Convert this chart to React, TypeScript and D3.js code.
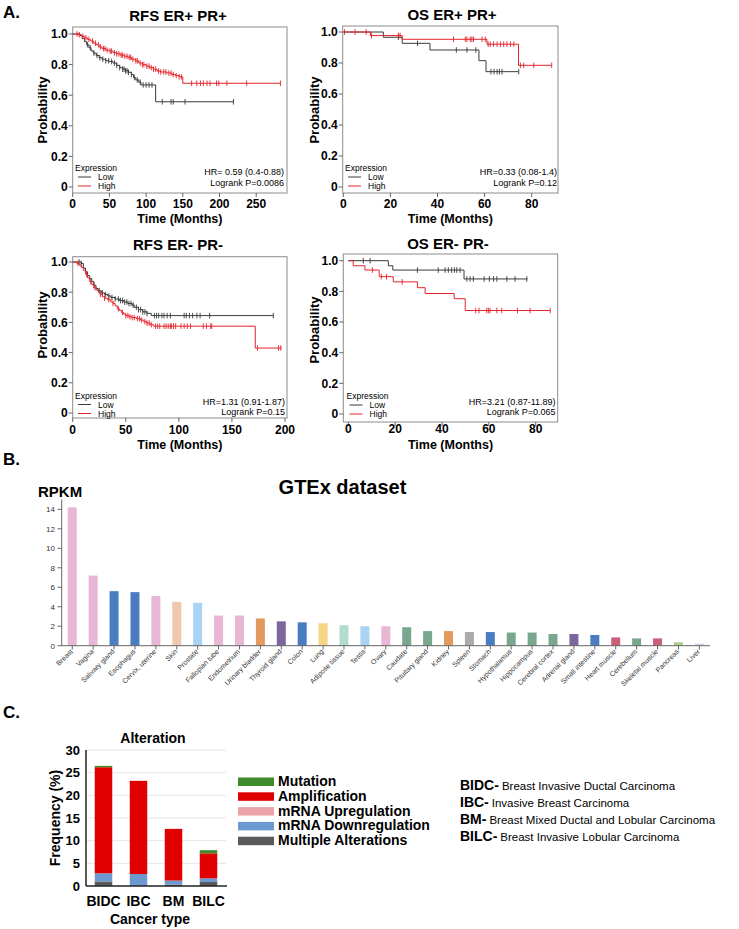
import React from "react";
import * as d3 from "d3";

type Pt = [number, number];

// ---------- Panel A: Kaplan-Meier data (time in months, survival probability) ----------
const rfsPosLow: Pt[] = [
  [0, 1], [10, 0.99], [13, 0.97], [16, 0.95], [19, 0.93], [22, 0.91], [25, 0.89], [28, 0.875],
  [32, 0.86], [36, 0.845], [40, 0.835], [45, 0.825], [50, 0.82], [55, 0.81], [60, 0.795],
  [64, 0.78], [68, 0.77], [72, 0.76], [76, 0.75], [80, 0.735], [83, 0.715], [86, 0.7],
  [90, 0.685], [93, 0.667], [113, 0.557], [219, 0.557],
];
const rfsPosLowCensor = [20, 24, 29, 33, 37, 41, 45, 49, 53, 57, 60, 64, 68, 70, 72, 74, 76, 80, 84, 88, 92, 96, 100, 104, 108, 122, 134, 137, 153, 219];
const rfsPosHigh: Pt[] = [
  [0, 1], [8, 0.995], [12, 0.985], [16, 0.975], [20, 0.965], [24, 0.955], [28, 0.94], [32, 0.93],
  [36, 0.915], [40, 0.905], [45, 0.895], [50, 0.888], [55, 0.878], [60, 0.87], [65, 0.862],
  [70, 0.855], [75, 0.848], [80, 0.835], [85, 0.825], [90, 0.81], [95, 0.8], [100, 0.79],
  [105, 0.78], [110, 0.77], [115, 0.758], [120, 0.752], [128, 0.745], [135, 0.735],
  [140, 0.728], [145, 0.72], [150, 0.678], [283, 0.678],
];
const rfsPosHighCensor = [6, 9, 14, 18, 22, 27, 31, 35, 38, 42, 44, 47, 51, 53, 57, 60, 63, 66, 68, 71, 74, 77, 79, 82, 86, 88, 92, 95, 97, 101, 104, 107, 110, 113, 117, 120, 124, 127, 131, 134, 137, 141, 145, 148, 162, 169, 174, 178, 183, 187, 196, 199, 210, 237, 283];

const osPosLow: Pt[] = [[0, 1], [17, 0.966], [25, 0.927], [36.8, 0.884], [57.6, 0.815], [60.6, 0.744], [74.5, 0.744]];
const osPosLowCensor = [23.4, 31.5, 48, 52.5, 56.3, 62.7, 64, 65.3, 66.3, 67.4, 74.5];
const osPosHigh: Pt[] = [[0, 1], [11.5, 0.977], [25, 0.953], [61, 0.921], [74.4, 0.785], [88.5, 0.785]];
const osPosHighCensor = [0.5, 5, 9.7, 12, 23.4, 24.1, 46.8, 51.8, 52.5, 53.9, 54.6, 55.3, 58.9, 60.3, 61.5, 62.4, 63.8, 65.3, 66.7, 68.1, 69.5, 71, 72.4, 75.2, 76.6, 80.9, 88.5];

const rfsNegLow: Pt[] = [
  [0, 1], [8, 0.99], [10, 0.96], [12, 0.935], [14, 0.91], [16, 0.89], [18, 0.87], [20, 0.845],
  [22, 0.825], [24, 0.81], [27, 0.795], [30, 0.785], [33, 0.775], [36, 0.765], [40, 0.755],
  [44, 0.745], [48, 0.735], [52, 0.725], [56, 0.715], [58, 0.7], [62, 0.685], [66, 0.67],
  [70, 0.66], [74, 0.645], [189, 0.645],
];
const rfsNegLowCensor = [6, 8, 20, 25, 28, 31, 34, 37, 40, 43, 45, 47, 49, 51, 53, 55, 57, 60, 62, 64, 66, 68, 70, 77, 79, 81, 84, 86, 89, 92, 105, 107, 110, 113, 117, 120, 129, 189];
const rfsNegHigh: Pt[] = [
  [0, 1], [4, 0.99], [6, 0.98], [8, 0.965], [10, 0.945], [12, 0.92], [14, 0.895], [16, 0.87],
  [18, 0.85], [20, 0.83], [22, 0.815], [24, 0.8], [26, 0.785], [28, 0.77], [30, 0.76],
  [33, 0.75], [36, 0.735], [38, 0.725], [40, 0.71], [42, 0.69], [44, 0.68], [46, 0.665],
  [48, 0.655], [50, 0.645], [53, 0.637], [56, 0.632], [60, 0.625], [64, 0.615], [67, 0.605],
  [70, 0.595], [73, 0.585], [76, 0.575], [172, 0.43], [197, 0.43],
];
const rfsNegHighCensor = [5, 13, 17, 21, 26, 30, 34, 38, 43, 47, 50, 52, 54, 56, 58, 61, 63, 65, 68, 70, 72, 74, 78, 80, 82, 86, 88, 90, 92, 93, 95, 97, 102, 105, 108, 111, 123, 126, 130, 131, 174, 194, 196];

const osNegLow: Pt[] = [[0, 1], [17.1, 0.967], [19, 0.939], [49.4, 0.881], [76.5, 0.881]];
const osNegLowCensor = [6.4, 9.3, 29.5, 38.4, 41.3, 42.7, 44.1, 45.3, 46.3, 47.7, 50.6, 52, 53.4, 58, 60.2, 62, 63.4, 67.7, 71.2, 76.2];
const osNegHigh: Pt[] = [[0, 1], [2.1, 0.967], [7.1, 0.939], [13.2, 0.896], [19.2, 0.862], [29.5, 0.824], [32.8, 0.786], [45.2, 0.752], [49.9, 0.675], [86.2, 0.675]];
const osNegHighCensor = [10.3, 14.1, 16.3, 23, 54.4, 55.8, 59.1, 59.8, 60.5, 63.4, 65.5, 72.2, 77.6, 86.2];

const probTicks = [0, 0.2, 0.4, 0.6, 0.8, 1.0];

// ---------- Panel B: GTEx ----------
const gtexTissues = [
  "Breast", "Vagina", "Salivary gland", "Esophagus", "Cervix, uterine", "Skin", "Prostate",
  "Fallopian tube", "Endometrium", "Urinary bladder", "Thyroid gland", "Colon", "Lung",
  "Adipose tissue", "Testis", "Ovary", "Caudate", "Pituitary gland", "Kidney", "Spleen",
  "Stomach", "Hypothalamus", "Hippocampus", "Cerebral cortex", "Adrenal gland",
  "Small intestine", "Heart muscle", "Cerebellum", "Skeletal muscle", "Pancreas", "Liver",
];
const gtexRpkm = [
  14.2, 7.2, 5.6, 5.5, 5.1, 4.5, 4.4, 3.1, 3.1, 2.8, 2.5, 2.4, 2.3, 2.1, 2.0, 2.0,
  1.9, 1.5, 1.5, 1.4, 1.4, 1.35, 1.35, 1.2, 1.2, 1.1, 0.85, 0.75, 0.75, 0.35, 0.2,
];
const gtexTicks = [0, 2, 4, 6, 8, 10, 12, 14];

// ---------- Panel C: Alterations ----------
const cancerTypes = ["BIDC", "IBC", "BM", "BILC"];
const altMultiple = [1.0, 0, 0.3, 0.9];
const altDownreg = [1.8, 2.65, 0.9, 0.8];
const altUpreg = [0, 0, 0, 0];
const altAmplification = [23.4, 20.55, 11.4, 5.5];
const altMutation = [0.3, 0, 0, 0.7];
const freqTicks = [0, 5, 10, 15, 20, 25, 30];
const altLegendLabels = ["Mutation", "Amplification", "mRNA Upregulation", "mRNA Downregulation", "Multiple Alterations"];
const abbrevCodes = ["BIDC-", "IBC-", "BM-", "BILC-"];
const abbrevNames = [
  "Breast Invasive Ductal Carcinoma",
  "Invasive Breast Carcinoma",
  "Breast Mixed Ductal and Lobular Carcinoma",
  "Breast Invasive Lobular Carcinoma",
];

// ---------- styles ----------
const FONT = "'Liberation Sans', Arial, Helvetica, sans-serif";
const RED = "#e3242b";
const BLACK = "#3a3a3a";
const gtexColors = [
  "#e8b7d5", "#e8b7d5", "#4a7cc2", "#4a7cc2", "#e8b7d5", "#f0c8ae", "#a9d3f5", "#e8b7d5",
  "#e8b7d5", "#e39a5e", "#7b669f", "#4a7cc2", "#f5d584", "#b4dccc", "#a9d3f5", "#e8b7d5",
  "#79a78e", "#79a78e", "#e39a5e", "#a9abac", "#4a7cc2", "#79a78e", "#79a78e", "#79a78e",
  "#7b669f", "#4a7cc2", "#c9607a", "#79a78e", "#c9607a", "#a9cc8a", "#d0cce8",
];
const altColors = ["#3f8a2a", "#e00000", "#eba3aa", "#6c9ad0", "#5a5a5a"];

function survAt(steps: Pt[], t: number) {
  let s = steps[0][1];
  for (const p of steps) if (p[0] <= t) s = p[1];
  return s;
}

type KMCfg = {
  title: string; titleX: number; titleY: number;
  box: [number, number, number, number];
  xd: [number, number]; xr: [number, number]; yr: [number, number];
  xTicks: number[]; xTickY: number; xLabelY: number; yLabelX: number; yLabelY: number;
  low: Pt[]; lowC: number[]; high: Pt[]; highC: number[];
  legX: number; legY: number; hrX: number; hrY: number; hr: string; p: string;
};

function KM({ c }: { c: KMCfg }) {
  const x = d3.scaleLinear().domain(c.xd).range(c.xr);
  const y = d3.scaleLinear().domain([0, 1]).range(c.yr);
  const line = d3.line<Pt>().x((d) => x(d[0])).y((d) => y(d[1])).curve(d3.curveStepAfter);
  const [bx0, bx1, by0, by1] = c.box;
  const series = [
    { steps: c.low, cens: c.lowC, color: BLACK },
    { steps: c.high, cens: c.highC, color: RED },
  ];
  return (
    <g fontFamily={FONT}>
      <text x={c.titleX} y={c.titleY} textAnchor="middle" fontWeight="bold" fontSize={15}>{c.title}</text>
      <rect x={bx0} y={by0} width={bx1 - bx0} height={by1 - by0} fill="none" stroke="#8c8c8c" strokeWidth={1} />
      {probTicks.map((t) => (
        <g key={"y" + t}>
          <line x1={bx0 - 4} x2={bx0} y1={y(t)} y2={y(t)} stroke="#666" />
          <text x={bx0 - 5} y={y(t)} dy="0.36em" textAnchor="end" fontWeight="bold" fontSize={12}>
            {t === 0 ? "0" : t.toFixed(1)}
          </text>
        </g>
      ))}
      {c.xTicks.map((t) => (
        <g key={"x" + t}>
          <line x1={x(t)} x2={x(t)} y1={by1} y2={by1 + 4} stroke="#666" />
          <text x={x(t)} y={c.xTickY} textAnchor="middle" fontWeight="bold" fontSize={12}>{t}</text>
        </g>
      ))}
      <text x={(bx0 + bx1) / 2} y={c.xLabelY} textAnchor="middle" fontWeight="bold" fontSize={12.5}>Time (Months)</text>
      <text transform={`translate(${c.yLabelX},${c.yLabelY}) rotate(-90)`} textAnchor="middle" fontWeight="bold" fontSize={13}>Probability</text>
      {series.map((s, i) => (
        <g key={i}>
          <path d={line(s.steps) || ""} fill="none" stroke={s.color} strokeWidth={1} />
          {s.cens.map((t, j) => (
            <line key={j} x1={x(t)} x2={x(t)} y1={y(survAt(s.steps, t)) - 2.8} y2={y(survAt(s.steps, t)) + 2.8} stroke={s.color} strokeWidth={0.9} />
          ))}
        </g>
      ))}
      <g fontSize={8.5}>
        <text x={c.legX} y={c.legY - 1.5}>Expression</text>
        <line x1={c.legX + 3} x2={c.legX + 16} y1={c.legY + 4.5} y2={c.legY + 4.5} stroke={BLACK} />
        <text x={c.legX + 23} y={c.legY + 7.5}>Low</text>
        <line x1={c.legX + 3} x2={c.legX + 16} y1={c.legY + 13.5} y2={c.legY + 13.5} stroke={RED} />
        <text x={c.legX + 23} y={c.legY + 16.5}>High</text>
        <text x={c.hrX} y={c.hrY - 0.5} textAnchor="end" fontSize={9}>{c.hr}</text>
        <text x={c.hrX} y={c.hrY + 10} textAnchor="end" fontSize={9}>{c.p}</text>
      </g>
    </g>
  );
}

const kmConfigs: KMCfg[] = [
  {
    title: "RFS ER+ PR+", titleX: 178, titleY: 20.5, box: [72.7, 287, 27, 193],
    xd: [0, 250], xr: [72.7, 256.2], yr: [187, 34], xTicks: [0, 50, 100, 150, 200, 250],
    xTickY: 207.5, xLabelY: 223, yLabelX: 47, yLabelY: 110,
    low: rfsPosLow, lowC: rfsPosLowCensor, high: rfsPosHigh, highC: rfsPosHighCensor,
    legX: 75, legY: 172.5, hrX: 284, hrY: 175.5, hr: "HR= 0.59 (0.4-0.88)", p: "Logrank P=0.0086",
  },
  {
    title: "OS ER+ PR+", titleX: 452, titleY: 20, box: [342.7, 558, 26, 193],
    xd: [0, 80], xr: [343.3, 531.7], yr: [187, 32], xTicks: [0, 20, 40, 60, 80],
    xTickY: 207.5, xLabelY: 223, yLabelX: 319, yLabelY: 110,
    low: osPosLow, lowC: osPosLowCensor, high: osPosHigh, highC: osPosHighCensor,
    legX: 345, legY: 172.5, hrX: 557, hrY: 175.5, hr: "HR=0.33 (0.08-1.4)", p: "Logrank P=0.12",
  },
  {
    title: "RFS  ER- PR-", titleX: 178, titleY: 249.5, box: [72.7, 287, 256.7, 418],
    xd: [0, 200], xr: [72.7, 285], yr: [413, 262], xTicks: [0, 50, 100, 150, 200],
    xTickY: 433.5, xLabelY: 449, yLabelX: 47, yLabelY: 325,
    low: rfsNegLow, lowC: rfsNegLowCensor, high: rfsNegHigh, highC: rfsNegHighCensor,
    legX: 75, legY: 400, hrX: 285, hrY: 405, hr: "HR=1.31 (0.91-1.87)", p: "Logrank P=0.15",
  },
  {
    title: "OS ER- PR-", titleX: 448, titleY: 249, box: [343.3, 557.7, 254, 422],
    xd: [0, 80], xr: [348.3, 535.7], yr: [414, 260.7], xTicks: [0, 20, 40, 60, 80],
    xTickY: 433, xLabelY: 449, yLabelX: 319, yLabelY: 330,
    low: osNegLow, lowC: osNegLowCensor, high: osNegHigh, highC: osNegHighCensor,
    legX: 346.5, legY: 400.5, hrX: 555.5, hrY: 405, hr: "HR=3.21 (0.87-11.89)", p: "Logrank P=0.065",
  },
];

function GTEx() {
  const x = d3.scaleBand<string>().domain(gtexTissues).range([66.3, 705.3]).paddingInner(0.57).paddingOuter(0.07);
  const y = d3.scaleLinear().domain([0, 15]).range([645.7, 499.6]);
  const bw = x.bandwidth();
  return (
    <g fontFamily={FONT}>
      <text x={342.5} y={493.5} textAnchor="middle" fontWeight="bold" fontSize={20}>GTEx dataset</text>
      <text x={38} y={497} fontWeight="bold" fontSize={15}>RPKM</text>
      {gtexTissues.map((t, i) => (
        <rect key={t} x={x(t)} y={y(gtexRpkm[i])} width={bw} height={y(0) - y(gtexRpkm[i])} fill={gtexColors[i]} />
      ))}
      <line x1={61.7} x2={61.7} y1={y(15)} y2={y(0)} stroke="#666" />
      <line x1={61.7} x2={710} y1={y(0)} y2={y(0)} stroke="#666" />
      {gtexTicks.map((t) => (
        <g key={t}>
          <line x1={57.5} x2={61.7} y1={y(t)} y2={y(t)} stroke="#666" />
          <text x={55} y={y(t)} dy="0.35em" textAnchor="end" fontSize={8} fill="#333">{t}</text>
        </g>
      ))}
      {gtexTissues.map((t) => {
        const cx = (x(t) || 0) + bw / 2;
        return (
          <g key={"l" + t}>
            <line x1={cx} x2={cx} y1={645.7} y2={649.5} stroke="#666" />
            <text transform={`translate(${cx + 1},${652}) rotate(-45)`} textAnchor="end" fontSize={7} fill="#333">{t}</text>
          </g>
        );
      })}
    </g>
  );
}

function Alterations() {
  const x = d3.scaleBand<string>().domain(cancerTypes).range([86, 226]).paddingInner(0.5).paddingOuter(0.25);
  const y = d3.scaleLinear().domain([0, 30]).range([886, 750]);
  const layers = [altMultiple, altDownreg, altUpreg, altAmplification, altMutation];
  const layerColors = [altColors[4], altColors[3], altColors[2], altColors[1], altColors[0]];
  const rows = cancerTypes.map((c, i) => {
    const o: any = { type: c };
    layers.forEach((l, k) => (o["k" + k] = l[i]));
    return o;
  });
  const stack = d3.stack<any>().keys(layers.map((_, k) => "k" + k))(rows);
  return (
    <g fontFamily={FONT}>
      <text x={153} y={742.5} textAnchor="middle" fontWeight="bold" fontSize={14}>Alteration</text>
      {freqTicks.map((t) => (
        <g key={t}>
          {t > 0 && <line x1={86} x2={226} y1={y(t)} y2={y(t)} stroke="#e6e6e6" />}
          <text x={80} y={y(t)} dy="0.36em" textAnchor="end" fontWeight="bold" fontSize={13}>{t}</text>
        </g>
      ))}
      {stack.map((s, k) => (
        <g key={k} fill={layerColors[k]}>
          {s.map((d, i) => (
            <rect key={i} x={x(cancerTypes[i])} y={y(d[1])} width={x.bandwidth()} height={Math.max(0, y(d[0]) - y(d[1]))} />
          ))}
        </g>
      ))}
      <line x1={86} x2={86} y1={y(30)} y2={y(0)} stroke="#222" strokeWidth={1.5} />
      <line x1={86} x2={227} y1={y(0)} y2={y(0)} stroke="#222" strokeWidth={1.5} />
      {cancerTypes.map((c) => (
        <text key={c} x={(x(c) || 0) + x.bandwidth() / 2} y={906} textAnchor="middle" fontWeight="bold" fontSize={14}>{c}</text>
      ))}
      <text x={150} y={923.5} textAnchor="middle" fontWeight="bold" fontSize={14}>Cancer type</text>
      <text transform="translate(60,818) rotate(-90)" textAnchor="middle" fontWeight="bold" fontSize={14}>Frequency (%)</text>
      {altLegendLabels.map((l, i) => (
        <g key={l}>
          <rect x={238} y={777.5 + i * 14.8} width={36} height={8.5} fill={altColors[i]} />
          <text x={278} y={786 + i * 14.8} fontWeight="bold" fontSize={14}>{l}</text>
        </g>
      ))}
      {abbrevCodes.map((c, i) => (
        <text key={c} x={460} y={789.5 + i * 17.1}>
          <tspan fontWeight="bold" fontSize={14}>{c}</tspan>
          <tspan fontSize={11.5} dx={3}>{abbrevNames[i]}</tspan>
        </text>
      ))}
    </g>
  );
}

export default function App() {
  return (
    <svg width={739} height={929} style={{ position: "absolute", left: 0, top: 0, background: "#fff" }}>
      <rect width={739} height={929} fill="#fff" />
      <g fontFamily={FONT} fontWeight="bold" fontSize={17}>
        <text x={3} y={17.5}>A.</text>
        <text x={3} y={464.5}>B.</text>
        <text x={3} y={718}>C.</text>
      </g>
      {kmConfigs.map((c) => (
        <KM key={c.title} c={c} />
      ))}
      <GTEx />
      <Alterations />
    </svg>
  );
}
